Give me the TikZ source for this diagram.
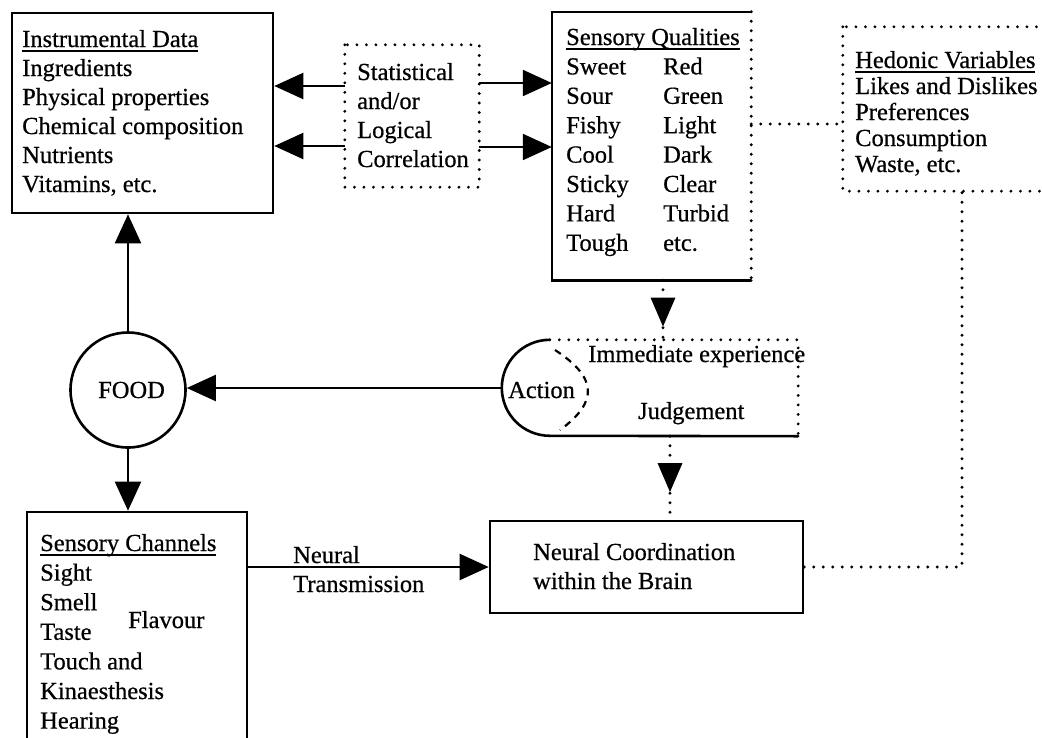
\documentclass[tikz,border=0pt]{standalone}
\usepackage{fontspec}
\setmainfont{Liberation Serif}[FakeBold=0.6]
\usetikzlibrary{arrows.meta,calc,decorations.markings}

% underlined heading with the rule at a fixed depth
\newsavebox\hdrbox
\newcommand\hdr[1]{\sbox\hdrbox{#1}\usebox\hdrbox\llap{\rule[-4.5pt]{\wd\hdrbox}{1.8pt}}}

\tikzset{
  frame/.style={draw, line width=2.6pt, inner sep=0pt},
  area/.style={inner sep=0pt},
  solidedge/.style={line width=2.6pt, line cap=round},
  dotline/.style={line width=3.2pt, dash pattern=on 0pt off 9.5pt, line cap=round},
  conn/.style={line width=2.2pt, -{Triangle[length=29pt,width=26pt]}},
  txt/.style={inner sep=0pt, anchor=base west, font=\fontsize{24.5}{29}\selectfont},
  tipat/.style={postaction={decorate},
    decoration={markings, mark=at position #1 with {\arrow{Triangle[length=29pt,width=24pt]}}}},
}

\begin{document}
\begin{tikzpicture}[x=1pt,y=-1pt]
\useasboundingbox (0,0) rectangle (1042,737);
\clip (0,0) rectangle (1042,737);

% ---- boxes ----
\node[frame, minimum width=261pt, minimum height=200pt] (instr) at (142.5,113) {};
\node[area, minimum width=134pt, minimum height=142pt] (stat) at (412,116) {};
\draw[dotline] (stat.north west) rectangle (stat.south east);
\node[area, minimum width=199pt, minimum height=268pt] (sq) at (651.5,146) {};
\draw[solidedge] (sq.north east) -- (sq.north west) -- (sq.south west) -- (sq.south east);
\draw[dotline] (sq.north east) -- (sq.south east);
\node[area, minimum width=217pt, minimum height=164pt] (hed) at (951.5,109) {};
\draw[dotline] (hed.north west) rectangle (hed.south east);
\node[frame, circle, minimum size=115pt] (food) at (128,390) {};
\node[area, minimum width=296pt, minimum height=96pt] (act) at (650,388) {};
\draw[solidedge] ($(act.north west)+(48,0)$) arc[start angle=270, end angle=90, radius=48] -- (act.south east);
\draw[dotline] ($(act.north west)+(48,0)$) -- (act.north east) -- (act.south east);
\draw[line width=2.2pt, dash pattern=on 7pt off 6pt] (555,350) .. controls (598,378) and (598,402) .. (560,430);
\node[frame, minimum width=220pt, minimum height=248pt] (ch) at (137,636) {};
\node[frame, minimum width=313pt, minimum height=92pt] (neu) at (646.5,567) {};

% ---- texts ----
\node[txt] (instrtext) at (22,47) {\begin{tabular}[t]{@{}l@{}}
  \hdr{Instrumental Data}\\ Ingredients\\ Physical properties\\
  Chemical composition\\ Nutrients\\ Vitamins, etc.\end{tabular}};
\node[txt] (stattext) at (357,80) {\begin{tabular}[t]{@{}l@{}}
  Statistical\\ and/or\\ Logical\\ Correlation\end{tabular}};
\node[txt, font=\fontsize{24.5}{29.4}\selectfont] (sqtext) at (566,45) {\begin{tabular}[t]{@{}p{97pt}@{}l@{}}
  \multicolumn{2}{@{}l@{}}{\hdr{Sensory Qualities}}\\
  Sweet & Red\\ Sour & Green\\ Fishy & Light\\ Cool & Dark\\
  Sticky & Clear\\ Hard & Turbid\\ Tough & etc.\end{tabular}};
\node[txt, font=\fontsize{24.5}{26}\selectfont] (hedtext) at (855,68) {\begin{tabular}[t]{@{}l@{}}
  \hdr{Hedonic Variables}\\ Likes and Dislikes\\ Preferences\\
  Consumption\\ Waste, etc.\end{tabular}};
\node[txt] (foodtext) at (98,398) {FOOD};
\node[txt] (acttext) at (508,398) {Action};
\node[txt] (imtext) at (588,362) {Immediate experience};
\node[txt] (judtext) at (638,419) {Judgement};
\node[txt, font=\fontsize{24.5}{29.6}\selectfont] (chtext) at (40,551) {\begin{tabular}[t]{@{}l@{}}
  \hdr{Sensory Channels}\\ Sight\\ Smell\\ Taste\\ Touch and\\
  Kinaesthesis\\ Hearing\end{tabular}};
\node[txt] (flavtext) at (128,628) {Flavour};
\node[txt] (neutext) at (533,560) {\begin{tabular}[t]{@{}l@{}}
  Neural Coordination\\ within the Brain\end{tabular}};
\node[txt] (transtext) at (293,563) {\begin{tabular}[t]{@{}l@{}}
  Neural\\ Transmission\end{tabular}};

% ---- connectors ----
\draw[conn] ([yshift=30pt]stat.west) -- ([yshift=27pt]instr.east);
\draw[conn] ([yshift=-30pt]stat.west) -- ([yshift=-33pt]instr.east);
\draw[conn] ([yshift=33pt]stat.east) -- ([yshift=63pt]sq.west);
\draw[conn] ([yshift=-31pt]stat.east) -- ([yshift=-1pt]sq.west);
\draw[conn] (food.north) -- (food.north |- instr.south);
\draw[conn] (food.south) -- (food.south |- ch.north);
\draw[conn] (act.west) -- (act.west -| food.east);
\draw[conn] (ch.east |- neu.west) -- (neu.west);

\coordinate (d1) at ([xshift=11.5pt]sq.south);
\coordinate (d2) at ([xshift=20pt]act.south);
\coordinate (d3) at ([xshift=10.5pt]hed.south);
\draw[dotline, tipat=0.78] (d1) -- (d1 |- act.north);
\draw[dotline, tipat=0.67] (d2) -- (d2 |- neu.north);
\draw[dotline] ([yshift=22pt]sq.east) -- ([yshift=-15pt]hed.west);
\draw[dotline] (neu.east) -| (d3);
\end{tikzpicture}
\end{document}
